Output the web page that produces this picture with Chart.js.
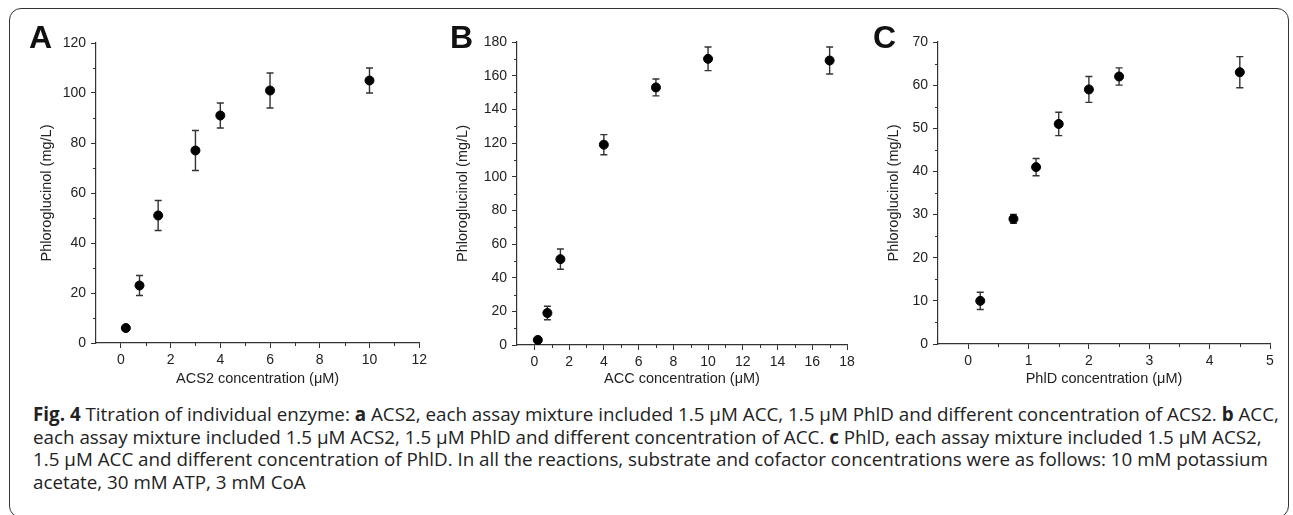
<!DOCTYPE html>
<html>
<head>
<meta charset="utf-8">
<script src="https://cdn.jsdelivr.net/npm/chart.js@4"></script>
<style>
  html, body { margin: 0; padding: 0; background: #fff; }
  body { width: 1293px; height: 515px; position: relative; overflow: hidden; }
  #frame {
    position: absolute; left: 9px; top: 8px; width: 1280px; height: 510px;
    border: 1.5px solid #333; border-radius: 12px; box-sizing: border-box;
  }
  .panel { position: absolute; top: 0; height: 400px; }
  .letter {
    position: absolute; font: bold 32px "Liberation Sans", Arial, sans-serif;
    line-height: 32px; color: #111;
  }
  #caption {
    position: absolute; left: 33px; top: 403px;
    font: 18.8px "Open Sans", sans-serif; line-height: 22.7px; color: #222;
    white-space: nowrap;
  }
</style>
</head>
<body>
<div id="frame"></div>

<div class="panel" style="left:0;width:431px"><canvas id="chartA"></canvas></div>
<div class="panel" style="left:431px;width:431px"><canvas id="chartB"></canvas></div>
<div class="panel" style="left:862px;width:431px"><canvas id="chartC"></canvas></div>

<div class="letter" style="left:29px;top:21px">A</div>
<div class="letter" style="left:450px;top:21px">B</div>
<div class="letter" style="left:873px;top:21px">C</div>

<div id="caption">
  <b>Fig. 4</b> Titration of individual enzyme: <b>a</b> ACS2, each assay mixture included 1.5 μM ACC, 1.5 μM PhlD and different concentration of ACS2. <b>b</b> ACC,<br>
  each assay mixture included 1.5 μM ACS2, 1.5 μM PhlD and different concentration of ACC. <b>c</b> PhlD, each assay mixture included 1.5 μM ACS2,<br>
  1.5 μM ACC and different concentration of PhlD. In all the reactions, substrate and cofactor concentrations were as follows: 10 mM potassium<br>
  acetate, 30 mM ATP, 3 mM CoA
</div>

<script>
// Datos
const acs2Conc = [0.2, 0.75, 1.5, 3, 4, 6, 10];
const acs2Phlor = [6, 23, 51, 77, 91, 101, 105];
const acs2Err = [0.8, 4, 6, 8, 5, 7, 5];

const accConc = [0.2, 0.75, 1.5, 4, 7, 10, 17];
const accPhlor = [3, 19, 51, 119, 153, 170, 169];
const accErr = [1.2, 4, 6, 6, 5, 7, 8];

const phldConc = [0.2, 0.75, 1.125, 1.5, 2, 2.5, 4.5];
const phldPhlor = [10, 29, 41, 51, 59, 62, 63];
const phldErr = [2, 1, 2, 2.7, 3, 2, 3.6];

const tickFont = { family: '"Liberation Sans", Arial, sans-serif', size: 14 };
const titleFont = { family: '"Liberation Sans", Arial, sans-serif', size: 14.5 };
const axisColor = '#333';

// Barras de error (debajo de los puntos)
const errorBars = {
    id: 'errorBars',
    beforeDatasetsDraw(chart, args, opts) {
        const { ctx, scales: { x, y } } = chart;
        const ds = chart.data.datasets[0];
        ctx.save();
        ctx.strokeStyle = '#333';
        ctx.lineWidth = 1.4;
        ds.data.forEach((p, i) => {
            const e = opts.errors[i];
            const px = x.getPixelForValue(p.x);
            const top = y.getPixelForValue(p.y + e);
            const bot = y.getPixelForValue(p.y - e);
            ctx.beginPath();
            ctx.moveTo(px, top); ctx.lineTo(px, bot);
            ctx.moveTo(px - 3.5, top); ctx.lineTo(px + 3.5, top);
            ctx.moveTo(px - 3.5, bot); ctx.lineTo(px + 3.5, bot);
            ctx.stroke();
        });
        ctx.restore();
    }
};

// Ticks menores
const minorTicks = {
    id: 'minorTicks',
    afterDraw(chart, args, opts) {
        const { ctx, scales: { x, y } } = chart;
        ctx.save();
        ctx.strokeStyle = axisColor;
        ctx.lineWidth = 1;
        for (let v = opts.xStart; v <= x.max + 1e-9; v += opts.xStep) {
            const px = Math.round(x.getPixelForValue(v)) + 0.5;
            ctx.beginPath();
            ctx.moveTo(px, y.bottom); ctx.lineTo(px, y.bottom + 3);
            ctx.stroke();
        }
        for (let v = opts.yStart; v <= y.max + 1e-9; v += opts.yStep) {
            const py = Math.round(y.getPixelForValue(v)) + 0.5;
            ctx.beginPath();
            ctx.moveTo(x.left, py); ctx.lineTo(x.left - 3, py);
            ctx.stroke();
        }
        ctx.restore();
    }
};

function makeChart(id, cfg) {
    const ctx = document.getElementById(id).getContext('2d');
    return new Chart(ctx, {
        type: 'scatter',
        data: {
            datasets: [{
                data: cfg.xs.map((v, i) => ({ x: v, y: cfg.ys[i] })),
                backgroundColor: '#000',
                borderColor: '#000',
                pointRadius: 4.5,
                pointHoverRadius: 4.5
            }]
        },
        options: {
            responsive: false,
            animation: false,
            events: [],
            layout: {
                padding: { left: 0, top: cfg.plotTop, right: 431 - (cfg.plotRight - cfg.canvasLeft), bottom: 0 }
            },
            plugins: {
                legend: { display: false },
                tooltip: { enabled: false },
                errorBars: { errors: cfg.errs },
                minorTicks: { xStart: cfg.xMinorStart, xStep: cfg.xStep, yStart: cfg.yStep / 2, yStep: cfg.yStep }
            },
            scales: {
                x: {
                    type: 'linear',
                    min: cfg.xMin, max: cfg.xMax,
                    afterFit: s => { s.height = 400 - cfg.plotBottom; },
                    border: { display: true, color: axisColor, width: 1.2 },
                    grid: { drawOnChartArea: false, drawTicks: true, tickLength: 5, color: axisColor },
                    ticks: {
                        stepSize: cfg.xStep, includeBounds: false, autoSkip: false,
                        maxRotation: 0, padding: 4, color: '#222', font: tickFont
                    },
                    title: { display: true, text: cfg.xTitle, color: '#222', font: titleFont, padding: { top: 0, bottom: 12 } }
                },
                y: {
                    min: 0, max: cfg.yMax,
                    afterFit: s => { s.width = cfg.plotLeft - cfg.canvasLeft; },
                    border: { display: true, color: axisColor, width: 1.2 },
                    grid: { drawOnChartArea: false, drawTicks: true, tickLength: 5, color: axisColor },
                    ticks: { stepSize: cfg.yStep, padding: 5, color: '#222', font: tickFont },
                    title: { display: true, text: 'Phloroglucinol (mg/L)', color: '#222', font: titleFont, padding: { top: cfg.yTitleX - 8.7, bottom: 0 } }
                }
            }
        },
        plugins: [errorBars, minorTicks]
    });
}

function sizeCanvas(id, w, h) {
    const c = document.getElementById(id);
    c.width = w; c.height = h;
    c.style.width = w + 'px'; c.style.height = h + 'px';
}

sizeCanvas('chartA', 431, 400);
sizeCanvas('chartB', 431, 400);
sizeCanvas('chartC', 431, 400);

makeChart('chartA', {
    xs: acs2Conc, ys: acs2Phlor, errs: acs2Err,
    canvasLeft: 0, plotLeft: 96, plotRight: 423, plotTop: 43, plotBottom: 343,
    xMin: -1, xMax: 12, xStep: 2, xMinorStart: 1, yMax: 120, yStep: 20,
    xTitle: 'ACS2 concentration (μM)', yTitleX: 47
});

makeChart('chartB', {
    xs: accConc, ys: accPhlor, errs: accErr,
    canvasLeft: 431, plotLeft: 517, plotRight: 847, plotTop: 42, plotBottom: 345,
    xMin: -1, xMax: 18, xStep: 2, xMinorStart: 1, yMax: 180, yStep: 20,
    xTitle: 'ACC concentration (μM)', yTitleX: 32
});

makeChart('chartC', {
    xs: phldConc, ys: phldPhlor, errs: phldErr,
    canvasLeft: 862, plotLeft: 938, plotRight: 1270, plotTop: 42, plotBottom: 344,
    xMin: -0.5, xMax: 5, xStep: 1, xMinorStart: 0.5, yMax: 70, yStep: 10,
    xTitle: 'PhlD concentration (μM)', yTitleX: 32
});
</script>
</body>
</html>
